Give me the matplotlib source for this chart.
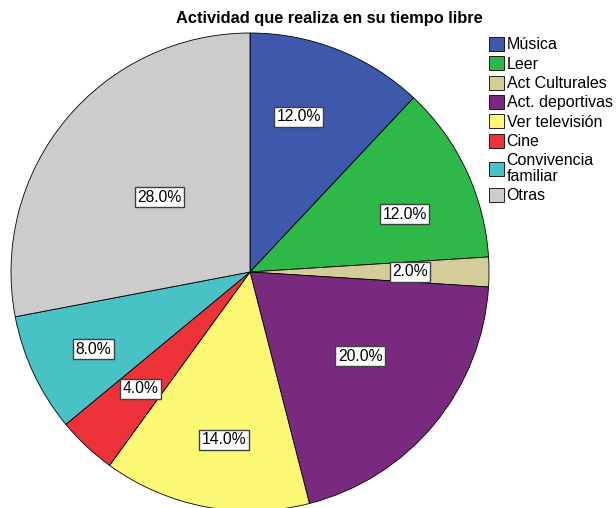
import matplotlib
matplotlib.use("Agg")
import matplotlib.pyplot as plt
import numpy as np

plt.rcParams['font.family'] = ['Liberation Sans', 'DejaVu Sans']

categories = ["Música", "Leer", "Act Culturales", "Act. deportivas",
              "Ver televisión", "Cine", "Convivencia\nfamiliar", "Otras"]
values = [12.0, 12.0, 2.0, 20.0, 14.0, 4.0, 8.0, 28.0]
colors = ["#3E58AC", "#2EB848", "#D4CC99", "#7A2A7E",
          "#FBF873", "#EE3239", "#48C2C5", "#CCCCCC"]
# label placement (style): radius fraction and angular offset in degrees
label_radius = [0.68, 0.69, 0.67, 0.58, 0.71, 0.67, 0.73, 0.49]
label_dangle = [4.2, -4.7, 0.0, 2.2, 2.0, 0.0, 1.0, 0.0]

W, H = 616, 508
fig = plt.figure(figsize=(W / 100, H / 100), dpi=100)
cx, cy, R = 250, 272, 239
ax = fig.add_axes([(cx - R) / W, (H - cy - R) / H, 2 * R / W, 2 * R / H])

wedges, _ = ax.pie(values, colors=colors, startangle=90, counterclock=False,
                   radius=1.0, wedgeprops=dict(edgecolor='black', linewidth=0.6))
ax.set_xlim(-1, 1)
ax.set_ylim(-1, 1)
ax.set_aspect('equal')
ax.axis('off')

total = sum(values)
cum = 0.0
for v, r, da in zip(values, label_radius, label_dangle):
    mid = 90 - (cum + v / 2) / total * 360 + da
    cum += v
    x = r * np.cos(np.radians(mid))
    y = r * np.sin(np.radians(mid))
    ax.text(x, y, f"{v:.1f}%", ha='center', va='center', fontsize=11.3,
            bbox=dict(boxstyle='square,pad=0.16', facecolor='white',
                      edgecolor='#404040', linewidth=1.0))

fig.text(329 / W, 1 - 19 / H, "Actividad que realiza en su tiempo libre",
         ha='center', va='center', fontsize=11.8, fontweight='bold')

leg = fig.legend(wedges, categories, loc='upper left',
                 bbox_to_anchor=(489 / W, 1 - 37 / H), frameon=False,
                 fontsize=11.5, handlelength=0.95, handleheight=0.95,
                 handletextpad=0.15, labelspacing=0.25, borderpad=0,
                 borderaxespad=0)
for t in leg.get_texts():
    t.set_linespacing(1.05)

fig.savefig("out.png", dpi=100)
